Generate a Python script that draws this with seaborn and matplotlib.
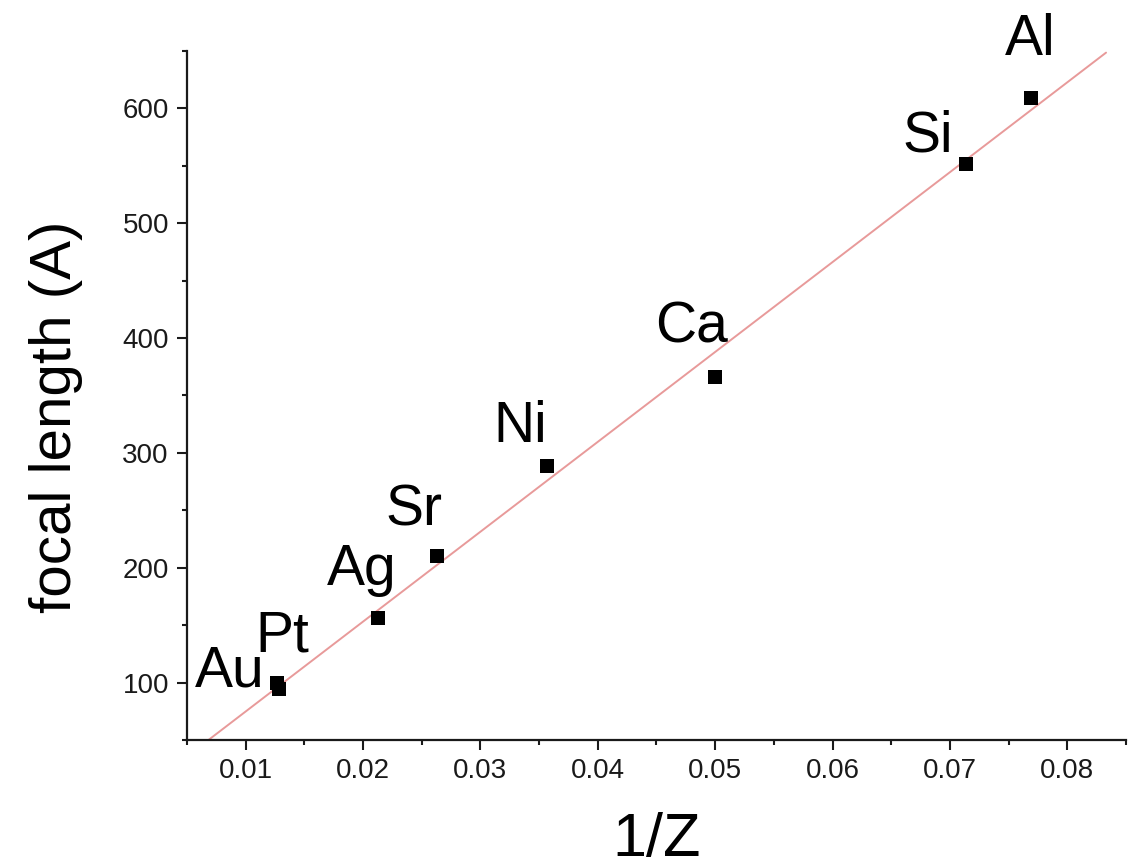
import matplotlib
matplotlib.use("Agg")
import matplotlib.pyplot as plt
from matplotlib.ticker import MultipleLocator
import seaborn as sns
import pandas as pd
import numpy as np

# Data
elements = ["Au", "Pt", "Ag", "Sr", "Ni", "Ca", "Si", "Al"]
inv_z = [0.0127, 0.0128, 0.0213, 0.0263, 0.0357, 0.0500, 0.0714, 0.0769]
focal_length = [100, 94, 156, 210, 289, 366, 552, 609]

# Label offsets from each point, in points
label_offsets = [(-9, -3), (-17, 27), (-37, 24), (-37, 22), (-39, 17), (-43, 25), (-46, 9), (-19, 31)]
label_ha = ["right", "left", "left", "left", "left", "left", "left", "left"]

df = pd.DataFrame({"element": elements, "inv_z": inv_z, "focal": focal_length})

# Linear fit
slope, intercept = np.polyfit(df["inv_z"], df["focal"], 1)
fit_x = np.array([0.005, 0.0833])
fit_df = pd.DataFrame({"x": fit_x, "y": slope * fit_x + intercept})

sns.set_theme(style="ticks")
plt.rcParams["font.family"] = ["Liberation Sans", "DejaVu Sans"]

fig = plt.figure(figsize=(11.42, 8.67), dpi=100)
ax = fig.add_axes([0.1637, 0.1465, 0.8223, 0.7947])

# Fit line
sns.lineplot(data=fit_df, x="x", y="y", ax=ax, color="#e89a9a", linewidth=1.4, zorder=1)

# Data points
sns.scatterplot(data=df, x="inv_z", y="focal", ax=ax, marker="s", s=100,
                color="black", edgecolor="black", linewidth=0, zorder=3)

# Element labels
for i, row in df.iterrows():
    ax.annotate(row["element"], (row["inv_z"], row["focal"]),
                xytext=label_offsets[i], textcoords="offset points",
                ha=label_ha[i], va="baseline", fontsize=41, color="black")

ax.set_xlim(0.005, 0.085)
ax.set_ylim(50, 650)
ax.xaxis.set_minor_locator(MultipleLocator(0.005))
ax.yaxis.set_minor_locator(MultipleLocator(50))
ax.set_xticks([0.01, 0.02, 0.03, 0.04, 0.05, 0.06, 0.07, 0.08])
ax.set_xticklabels(["0.01", "0.02", "0.03", "0.04", "0.05", "0.06", "0.07", "0.08"])
ax.set_yticks([100, 200, 300, 400, 500, 600])

ax.tick_params(axis="both", which="major", length=7, width=1.5, labelsize=20,
               pad=6, colors="#1a1a1a", direction="out")
ax.tick_params(axis="both", which="minor", length=3.5, width=1.5, direction="out",
               colors="#1a1a1a")

for side in ["left", "bottom"]:
    ax.spines[side].set_linewidth(1.6)
    ax.spines[side].set_color("#1a1a1a")
sns.despine(ax=ax)

ax.set_xlabel("1/Z", fontsize=44, color="black")
ax.set_ylabel("focal length (A)", fontsize=42, color="black")
ax.xaxis.set_label_coords(0.5, -0.1045)
ax.yaxis.set_label_coords(-0.111, 0.469)

fig.savefig("out.png", dpi=100)
